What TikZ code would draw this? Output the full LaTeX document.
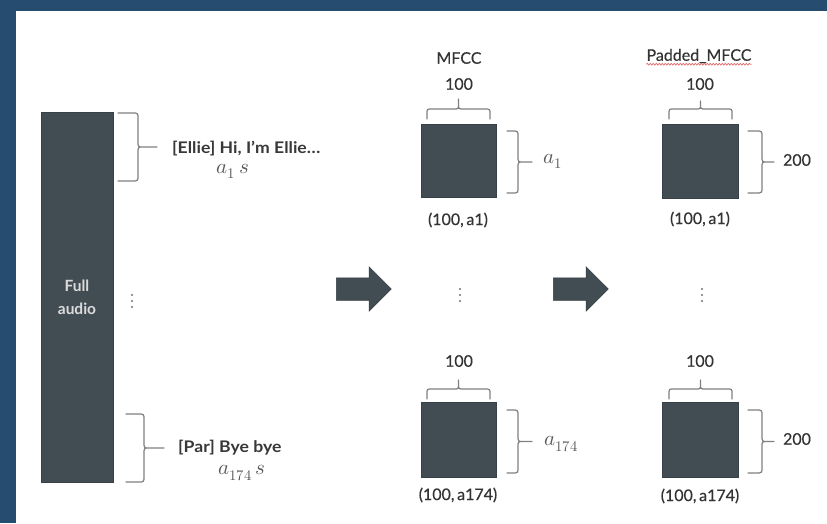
\documentclass[tikz,border=0pt]{standalone}
\usepackage{fontspec}
\usepackage{unicode-math}
\setmainfont{Lato}
\setmathfont{Latin Modern Math}
\newfontfamily\lblfont{Lato}[FakeBold=0.35]
\newfontfamily\talkfont{Lato}[FakeStretch=1.1]
\usetikzlibrary{shapes.arrows,decorations.pathmorphing}

\definecolor{frameblue}{HTML}{264C70}
\definecolor{slate}{HTML}{424C53}
\definecolor{bracegray}{HTML}{808080}
\definecolor{squig}{HTML}{E06A6A}

% right-opening curly brace with a short tail:
% #1 hook x, #2 spine x, #3 tail end x, #4 top y, #5 bottom y
\newcommand\BraceRight[5]{%
  \pgfmathsetmacro\bmid{(#4+#5)/2}%
  \draw[bracestroke] (#1,#4) -- ({#2-6},#4) .. controls (#2,#4) .. (#2,{#4+6})
    -- (#2,{\bmid-6}) .. controls (#2,\bmid) .. ({#2+5},\bmid) -- (#3,\bmid)
    ({#2+5},\bmid) .. controls (#2,\bmid) .. (#2,{\bmid+6})
    -- (#2,{#5-6}) .. controls (#2,#5) .. ({#2-6},#5) -- (#1,#5);}

% upward curly brace above a block:
% #1 left x, #2 right x, #3 hook y, #4 spine y, #5 tail end y
\newcommand\BraceUp[5]{%
  \pgfmathsetmacro\bmid{(#1+#2)/2}%
  \draw[bracestroke] (#1,#3) -- (#1,{#4+5}) .. controls (#1,#4) .. ({#1+5},#4)
    -- ({\bmid-5},#4) .. controls (\bmid,#4) .. (\bmid,{#4-5}) -- (\bmid,#5)
    (\bmid,{#4-5}) .. controls (\bmid,#4) .. ({\bmid+5},#4)
    -- ({#2-5},#4) .. controls (#2,#4) .. (#2,{#4+5}) -- (#2,#3);}

\begin{document}
\begin{tikzpicture}[x=1pt,y=-1pt,
  sq/.style={fill=slate, draw=slate!85!black, line width=0.6pt,
    minimum width=75pt, minimum height=73pt, inner sep=0pt},
  lbl/.style={font=\lblfont\fontsize{16}{18}\selectfont, text=black!80, inner sep=0pt},
  talk/.style={font=\talkfont\bfseries\fontsize{16}{18}\selectfont, text=black!78,
    inner sep=0pt, anchor=west},
  mathlbl/.style={font=\fontsize{21}{23}\selectfont, text=black!65, inner sep=0pt},
  bracestroke/.style={draw=bracegray, line width=1.2pt, line cap=round},
  blockarrow/.style={single arrow, fill=slate, draw=slate!80!black, line width=0.5pt,
    minimum height=55pt, single arrow head extend=11pt,
    single arrow head indent=0pt, inner xsep=0pt, inner ysep=11pt, anchor=tail},
  dot/.style={circle, fill=black!55, inner sep=0pt, minimum size=2.4pt}
]
% frame and page
\useasboundingbox (0,0) rectangle (827,523);
\fill[frameblue] (0,0) rectangle (827,523);
\fill[white] (16,11) rectangle (827,523);

% full recording
\node[fill=slate, draw=slate!85!black, line width=0.6pt, minimum width=72pt,
  minimum height=370pt, inner sep=0pt] (full) at (77,297.5) {};
\node[font=\bfseries\fontsize{15.5}{23}\selectfont, text=white!86!black, align=center]
  (fullT) at (full.center) {Full\\audio};

% utterance braces and captions
\BraceRight{118}{138}{157}{113}{181}
\node[talk] (ellie) at (172,149) {[Ellie] Hi, I’m Ellie…};
\node[mathlbl] (ellieA) at (233,171.5) {$a_1\,s$};
\BraceRight{126}{144}{164}{414}{482}
\node[talk] (par) at (178,448) {[Par] Bye bye};
\node[mathlbl] (parA) at (242,473) {$a_{174}\,s$};

\foreach \k/\y in {1/295,2/301,3/307} \node[dot] (fdot\k) at (132,\y) {};

% step arrows
\node[blockarrow] (arrA) at (336,289) {};
\node[blockarrow] (arrB) at (553,289) {};

% MFCC column
\node[lbl] (mfccT) at (459,58) {MFCC};
\node[lbl] (mfccW1) at (459,84) {100};
\BraceUp{427}{490}{119}{109}{99}
\node[sq] (mfcc1) at (458.5,160.5) {};
\BraceRight{507}{518}{532}{131}{193}
\node[mathlbl] (mfccH1) at (553,161) {$a_1$};
\node[lbl] (mfccS1) at (458,220) {(100,\,a1)};

\foreach \k/\y in {1/289,2/295,3/301} \node[dot] (mdot\k) at (460,\y) {};

\node[lbl] (mfccW2) at (459,361) {100};
\BraceUp{427}{490}{399}{389}{380}
\node[sq, minimum height=75pt] (mfcc2) at (458.5,439.5) {};
\BraceRight{507}{518}{532}{410}{473}
\node[mathlbl] (mfccH2) at (561,444) {$a_{174}$};
\node[lbl] (mfccS2) at (458,495) {(100,\,a174)};

% padded MFCC column
\node[lbl] (padT) at (699,56) {Padded\_MFCC};
\draw[squig, line width=0.7pt, decorate,
  decoration={snake, amplitude=0.9pt, segment length=3pt}]
  ([yshift=-3.5pt]padT.base west) -- ([yshift=-3.5pt]padT.base east);
\node[lbl] (padW1) at (700,84) {100};
\BraceUp{669}{732}{119}{109}{101}
\node[sq, minimum width=76pt, minimum height=74pt] (pad1) at (700,161) {};
\BraceRight{748}{762}{774}{131}{193}
\node[lbl] (padH1) at (797,160) {200};
\node[lbl] (padS1) at (700,219) {(100,\,a1)};

\foreach \k/\y in {1/289,2/295,3/301} \node[dot] (pdot\k) at (702,\y) {};

\node[lbl] (padW2) at (700,361) {100};
\BraceUp{669}{732}{399}{389}{380}
\node[sq, minimum width=76pt, minimum height=75pt] (pad2) at (700,439.5) {};
\BraceRight{748}{762}{774}{410}{473}
\node[lbl] (padH2) at (797,439) {200};
\node[lbl] (padS2) at (700,496) {(100,\,a174)};
\end{tikzpicture}
\end{document}
